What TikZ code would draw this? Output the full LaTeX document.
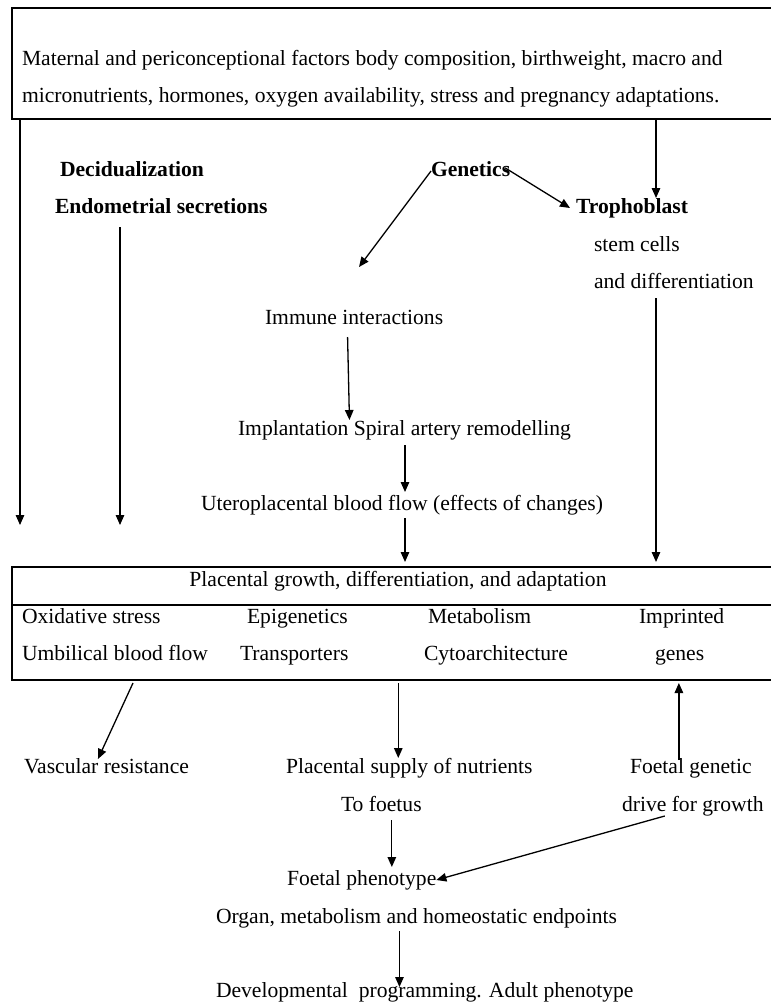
\documentclass[tikz,border=0pt]{standalone}
\usepackage{fontspec}
\setmainfont{Liberation Serif}
\usetikzlibrary{arrows.meta}
\begin{document}
\begin{tikzpicture}[x=1pt,y=-1pt,
  every node/.style={inner sep=0pt, outer sep=0pt, font=\fontsize{21.6}{37}\selectfont},
  t/.style={text height=15pt, text depth=5pt},
  lbl/.style={t, anchor=west},
  bold/.style={font=\fontsize{21.6}{37}\selectfont\bfseries},
  arr/.style={-{Triangle[length=10pt,width=8.5pt]}, line width=1.3pt},
  frame/.style={line width=1.3pt}]
\useasboundingbox (0,0) rectangle (771,1004);

% top box
\node[minimum width=759pt, minimum height=111pt, anchor=north west] (top) at (12,8) {};
\draw[frame] (top.north east) -- (top.north west) -- (top.south west) -- (top.south east);
\node[anchor=north west, align=left] (toptext) at (22,50) {Maternal and periconceptional factors body composition, birthweight, macro and\\micronutrients, hormones, oxygen availability, stress and pregnancy adaptations.};

% upper labels
\node[lbl,bold] (dec) at (60,171) {Decidualization};
\node[lbl,bold] (endo) at (55,208) {Endometrial secretions};
\node[lbl,bold] (gen) at (431,171) {Genetics};
\node[lbl,bold] (tro) at (576,208) {Trophoblast};
\node[lbl] (stem) at (594,246) {stem cells};
\node[lbl] (diff) at (594,283) {and differentiation};
\node[lbl] (imm) at (265,319) {Immune interactions};
\node[lbl] (impl) at (238,430) {Implantation Spiral artery remodelling};
\node[lbl] (utero) at (201,505) {Uteroplacental blood flow (effects of changes)};

% placental box
\node[minimum width=759pt, minimum height=113pt, anchor=north west] (plac) at (12,567) {};
\draw[frame] (plac.north east) -- (plac.north west) -- (plac.south west) -- (plac.south east);
\draw[frame] ([yshift=-38pt]plac.north west) -- ([yshift=-38pt]plac.north east);
\node[t] (ptitle) at (398,581) {Placental growth, differentiation, and adaptation};
\node[lbl] (ox) at (22,618) {Oxidative stress};
\node[lbl] (epi) at (247,618) {Epigenetics};
\node[lbl] (met) at (428,618) {Metabolism};
\node[lbl] (imp) at (639,618) {Imprinted};
\node[lbl] (umb) at (22,655) {Umbilical blood flow};
\node[lbl] (trans) at (240,655) {Transporters};
\node[lbl] (cyto) at (424,655) {Cytoarchitecture};
\node[lbl] (genes) at (655,655) {genes};

% lower labels
\node[lbl] (vasc) at (24,768) {Vascular resistance};
\node[lbl] (supply) at (286,768) {Placental supply of nutrients};
\node[lbl] (tof) at (341,806) {To foetus};
\node[lbl] (fgen) at (630,768) {Foetal genetic};
\node[lbl] (drive) at (622,806) {drive for growth};
\node[lbl] (fph) at (287,880) {Foetal phenotype};
\node[lbl] (organ) at (216,918) {Organ, metabolism and homeostatic endpoints};
\node[lbl] (dev) at (216,992) {Developmental\ \ programming. Adult phenotype};

% coordinates for free / offset ends
\coordinate (lend) at (20,525);
\coordinate (eend) at (120,525);
\coordinate (genend) at (359,267);
\coordinate (trotop) at (656,198);
\coordinate (immstart) at ([xshift=-6.5pt,yshift=-8pt]imm.south);
\coordinate (implin) at ([xshift=-55pt]impl.north);
\coordinate (midx) at (405,0);
\coordinate (vstart) at ([xshift=121pt,yshift=-3pt]plac.south west);
\coordinate (vend) at ([xshift=-8.5pt,yshift=-1pt]vasc.north);
\coordinate (sup) at ([xshift=-11pt]supply.north);
\coordinate (fu) at ([xshift=-12pt,yshift=-2pt]fgen.north);
\coordinate (tfs) at ([xshift=10.5pt,yshift=-4pt]tof.south);
\coordinate (drs) at ([xshift=-28pt]drive.south);
\coordinate (ors) at ([xshift=-17pt,yshift=-3pt]organ.south);

% connectors
\draw[arr] (top.south west -| lend) -- (lend);
\draw[arr, shorten <=9pt] (endo.south -| eend) -- (eend);
\draw[arr] (top.south -| trotop) -- (trotop);
\draw[arr] (gen.west) -- (genend);
\draw[arr, shorten <=-6pt] (gen.east) -- ([xshift=-6pt]tro.west);
\draw[arr] (immstart) -- (implin);
\draw[arr, shorten <=5pt, shorten >=3pt] (impl.south -| midx) -- (utero.north -| midx);
\draw[arr, shorten <=3pt, shorten >=5pt] (utero.south -| midx) -- (plac.north -| midx);
\draw[arr, shorten <=5pt, shorten >=5pt] (diff.south -| trotop) -- (plac.north -| trotop);
\draw[arr] (vstart) -- (vend);
\draw[arr, shorten <=3pt] (plac.south -| sup) -- (sup);
\draw[arr, shorten >=3pt] (fu) -- (plac.south -| fu);
\draw[arr, shorten >=3pt] (tfs) -- (fph.north -| tfs);
\draw[arr] (drs) -- (fph.east);
\draw[arr] (ors) -- ([yshift=-5pt]dev.north -| ors);
\end{tikzpicture}
\end{document}
